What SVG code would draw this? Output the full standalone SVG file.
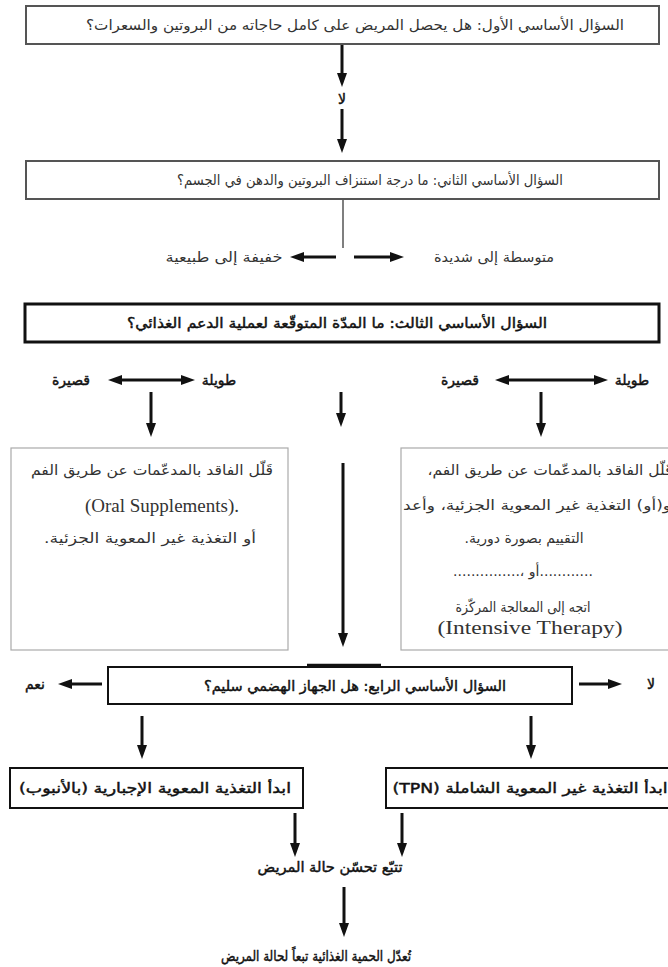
<svg xmlns="http://www.w3.org/2000/svg" width="668" height="967" viewBox="0 0 668 967">
<style>
.bg{fill:#fff}
.b1{fill:#fff;stroke:#555;stroke-width:2}
.bt{fill:#fff;stroke:#aaa;stroke-width:1.2}
.b3{fill:#fff;stroke:#111;stroke-width:3}
.b4{fill:#fff;stroke:#111;stroke-width:2}
.t{font-family:"DejaVu Sans","Noto Sans",sans-serif;font-size:14px;fill:#333;text-anchor:middle}
.tk{font-family:"DejaVu Sans","Noto Sans",sans-serif;font-size:14px;fill:#111;stroke:#111;stroke-width:0.45;text-anchor:middle}
.lat{font-family:"Liberation Serif","Times New Roman",serif;font-size:19px;fill:#333;text-anchor:middle}
.arr{stroke:#111;stroke-width:3;fill:none;marker-end:url(#ah)}
.ln{stroke:#555;stroke-width:1.5;fill:none}
</style>
<defs>
<marker id="ah" viewBox="0 0 14 10" refX="0" refY="5" markerWidth="14" markerHeight="10" orient="auto" markerUnits="userSpaceOnUse">
<path d="M0,0 L14,5 L0,10 z" fill="#111"/>
</marker>
</defs>
<rect class="bg" x="0" y="0" width="668" height="967"/>

<g id="connectors">
<line class="arr" x1="342" y1="44" x2="342" y2="73"/>
<line class="arr" x1="342" y1="109" x2="342" y2="139"/>
<line class="ln" x1="343" y1="199" x2="343" y2="248"/>
<line class="arr" x1="336" y1="257" x2="304" y2="257"/>
<line class="arr" x1="354" y1="257" x2="390" y2="257"/>
<line class="arr" x1="152" y1="380" x2="122" y2="380"/>
<line class="arr" x1="152" y1="380" x2="181" y2="380"/>
<line class="arr" x1="541" y1="380" x2="509" y2="380"/>
<line class="arr" x1="541" y1="380" x2="594" y2="380"/>
<line class="arr" x1="151" y1="392" x2="151" y2="423"/>
<line class="arr" x1="341" y1="392" x2="341" y2="413"/>
<line class="arr" x1="541" y1="392" x2="541" y2="423"/>
<line class="arr" x1="343" y1="463" x2="343" y2="633"/>
<line class="arr" x1="102" y1="684" x2="72" y2="684"/>
<line class="arr" x1="579" y1="684" x2="608" y2="684"/>
<line class="arr" x1="142" y1="716" x2="142" y2="745"/>
<line class="arr" x1="531" y1="716" x2="531" y2="745"/>
<line class="arr" x1="295" y1="813" x2="295" y2="843"/>
<line class="arr" x1="402" y1="813" x2="402" y2="843"/>
<line class="arr" x1="344" y1="887" x2="344" y2="923"/>
</g>

<g id="q1">
<rect class="b1" x="26" y="6" width="633" height="38"/>
<text class="t" x="355" y="30" direction="rtl" textLength="538" lengthAdjust="spacingAndGlyphs">السؤال الأساسي الأول: هل يحصل المريض على كامل حاجاته من البروتين والسعرات؟</text>
</g>
<g id="lbl-no1"><text class="tk" x="342" y="104" direction="rtl">لا</text></g>
<g id="q2">
<rect class="b1" x="26" y="161" width="633" height="38"/>
<text class="t" x="370" y="185" direction="rtl" textLength="386" lengthAdjust="spacingAndGlyphs">السؤال الأساسي الثاني: ما درجة استنزاف البروتين والدهن في الجسم؟</text>
</g>
<g id="lbl-mild"><text class="t" x="224" y="262" direction="rtl" textLength="117" lengthAdjust="spacingAndGlyphs">خفيفة إلى طبيعية</text></g>
<g id="lbl-severe"><text class="t" x="494" y="262" direction="rtl" textLength="120" lengthAdjust="spacingAndGlyphs">متوسطة إلى شديدة</text></g>
<g id="q3">
<rect class="b3" x="25" y="304" width="634" height="38"/>
<text class="tk" x="337" y="328" direction="rtl" textLength="420" lengthAdjust="spacingAndGlyphs">السؤال الأساسي الثالث: ما المدّة المتوقّعة لعملية الدعم الغذائي؟</text>
</g>
<g id="lbl-short-l"><text class="tk" x="71" y="385" direction="rtl">قصيرة</text></g>
<g id="lbl-long-l"><text class="tk" x="219" y="385" direction="rtl">طويلة</text></g>
<g id="lbl-short-r"><text class="tk" x="460" y="385" direction="rtl">قصيرة</text></g>
<g id="lbl-long-r"><text class="tk" x="632" y="385" direction="rtl">طويلة</text></g>
<g id="box-left">
<rect class="bt" x="11" y="448" width="277" height="202"/>
<text class="t" x="152" y="475" direction="rtl" textLength="242" lengthAdjust="spacingAndGlyphs">قَلّل الفاقد بالمدعّمات عن طريق الفم</text>
<text class="lat" x="162" y="512">(Oral Supplements).</text>
<text class="t" x="150" y="543" direction="rtl" textLength="212" lengthAdjust="spacingAndGlyphs">أو التغذية غير المعوية الجزئية.</text>
</g>
<g id="box-right">
<rect class="bt" x="401" y="448" width="290" height="202"/>
<text class="t" x="550" y="475" direction="rtl" textLength="245" lengthAdjust="spacingAndGlyphs">قَلّل الفاقد بالمدعّمات عن طريق الفم،</text>
<text class="t" x="537" y="510" direction="rtl" textLength="268" lengthAdjust="spacingAndGlyphs">و(أو) التغذية غير المعوية الجزئية، وأعد</text>
<text class="t" x="524" y="543" direction="rtl">التقييم بصورة دورية.</text>
<text class="t" x="523" y="576" direction="rtl">............أو ،...............</text>
<text class="t" x="523" y="612" direction="rtl" textLength="135" lengthAdjust="spacingAndGlyphs">اتجه إلى المعالجة المركّزة</text>
<text class="lat" x="530" y="634" textLength="185" lengthAdjust="spacingAndGlyphs">(Intensive Therapy)</text>
</g>
<g id="q4">
<rect class="b4" x="108" y="667" width="464" height="37"/>
<line x1="307" y1="665" x2="381" y2="665" stroke="#111" stroke-width="2.5"/>
<text class="tk" x="355" y="691" direction="rtl" textLength="302" lengthAdjust="spacingAndGlyphs">السؤال الأساسي الرابع: هل الجهاز الهضمي سليم؟</text>
</g>
<g id="lbl-yes"><text class="tk" x="35" y="689" direction="rtl">نعم</text></g>
<g id="lbl-no2"><text class="tk" x="651" y="689" direction="rtl">لا</text></g>
<g id="enteral">
<rect class="b4" x="10" y="768" width="293" height="40"/>
<text class="tk" x="155" y="793" direction="rtl" textLength="272" lengthAdjust="spacingAndGlyphs">ابدأ التغذية المعوية الإجبارية (بالأنبوب)</text>
</g>
<g id="tpn">
<rect class="b4" x="386" y="768" width="300" height="40"/>
<text class="tk" x="530" y="793" direction="rtl" textLength="275" lengthAdjust="spacingAndGlyphs">ابدأ التغذية غير المعوية الشاملة (TPN)</text>
</g>
<g id="monitor"><text class="tk" x="330" y="872" direction="rtl" textLength="145" lengthAdjust="spacingAndGlyphs">تتبّع تحسّن حالة المريض</text></g>
<g id="adjust"><text class="tk" x="316" y="961" direction="rtl" textLength="190" lengthAdjust="spacingAndGlyphs">تُعدّل الحمية الغذائية تبعاً لحالة المريض</text></g>
</svg>
